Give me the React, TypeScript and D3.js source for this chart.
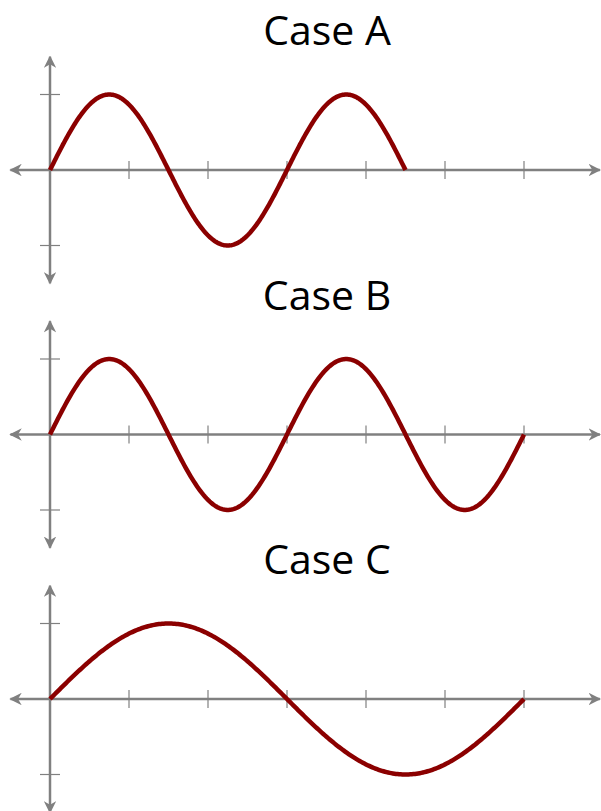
import React, { useEffect, useRef } from 'react';
import * as d3 from 'd3';

// panel titles and wave settings (period in x units, end of curve in x units)
const titles = ['Case A', 'Case B', 'Case C'];
const periods = [3, 3, 6];
const curveEnds = [4.5, 6, 6];
const xTicks = [1, 2, 3, 4, 5, 6];
const yTicks = [-1, 1];

const W = 601;
const H = 811;

const App = () => {
    const ref = useRef<SVGSVGElement>(null);

    useEffect(() => {
        const svg = d3.select(ref.current);
        svg.selectAll('*').remove();

        const grey = '#808080';
        const red = '#8b0000';

        // arrow head marker
        const defs = svg.append('defs');
        defs.append('marker')
            .attr('id', 'arr')
            .attr('viewBox', '0 0 10 10')
            .attr('refX', 9)
            .attr('refY', 5)
            .attr('markerWidth', 5)
            .attr('markerHeight', 5)
            .attr('markerUnits', 'strokeWidth')
            .attr('orient', 'auto-start-reverse')
            .append('path')
            .attr('d', 'M0,0 L10,5 L0,10 L3,5 Z')
            .attr('fill', grey);

        const x = d3.scaleLinear().domain([0, 6]).range([50, 524]);
        const panelGap = 264.5;

        titles.forEach((title, i) => {
            const y0 = 170 + i * panelGap;
            const y = d3.scaleLinear().domain([-1, 1]).range([y0 + 75.5, y0 - 75.5]);
            const g = svg.append('g');

            g.append('text')
                .attr('x', 327)
                .attr('y', y0 - 125)
                .attr('text-anchor', 'middle')
                .attr('font-family', 'Open Sans, sans-serif')
                .attr('font-size', 41)
                .attr('fill', '#000')
                .text(title);

            // x axis
            g.append('line')
                .attr('x1', x(-0.5)).attr('x2', x(6.96))
                .attr('y1', y(0)).attr('y2', y(0))
                .attr('stroke', grey).attr('stroke-width', 2.5)
                .attr('marker-start', 'url(#arr)')
                .attr('marker-end', 'url(#arr)');

            // y axis
            g.append('line')
                .attr('x1', x(0)).attr('x2', x(0))
                .attr('y1', y(-1.5)).attr('y2', y(1.5))
                .attr('stroke', grey).attr('stroke-width', 2.5)
                .attr('marker-start', 'url(#arr)')
                .attr('marker-end', 'url(#arr)');

            g.selectAll('.xt')
                .data(xTicks)
                .join('line')
                .attr('x1', d => x(d)).attr('x2', d => x(d))
                .attr('y1', y(0) - 9).attr('y2', y(0) + 9)
                .attr('stroke', grey).attr('stroke-width', 1.2);

            g.selectAll('.yt')
                .data(yTicks)
                .join('line')
                .attr('x1', x(0) - 10).attr('x2', x(0) + 10)
                .attr('y1', d => y(d)).attr('y2', d => y(d))
                .attr('stroke', grey).attr('stroke-width', 1.2);

            const pts = d3.range(0, curveEnds[i] + 1e-9, curveEnds[i] / 300);
            const line = d3.line<number>()
                .x(d => x(d))
                .y(d => y(Math.sin(2 * Math.PI * d / periods[i])));

            g.append('path')
                .datum(pts)
                .attr('d', line)
                .attr('fill', 'none')
                .attr('stroke', red)
                .attr('stroke-width', 4.5);
        });
    }, []);

    return (
        <svg ref={ref} width={W} height={H} style={{ position: 'absolute', left: 0, top: 0 }} />
    );
};

export default App;
